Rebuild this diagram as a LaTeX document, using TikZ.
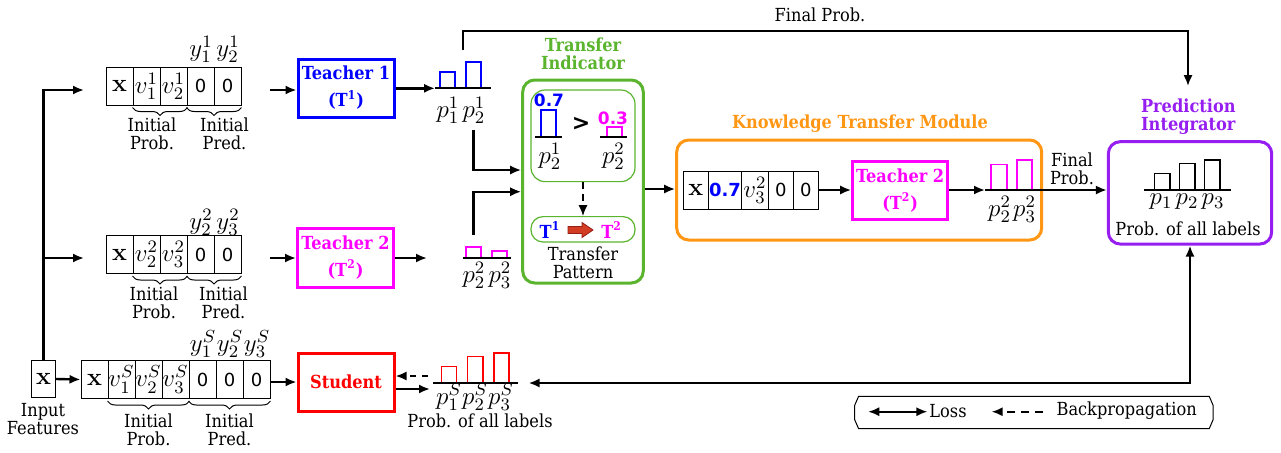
\RequirePackage{fix-cm}
\documentclass[tikz,border=0pt]{standalone}
\usepackage[no-math]{fontspec}
\IfFontExistsTF{DejaVu Serif Condensed}{\setmainfont{DejaVu Serif Condensed}}{\setmainfont{DejaVu Serif}}
\newfontfamily\numfont{DejaVu Sans}
\usetikzlibrary{arrows.meta,decorations.pathreplacing,calc}
\definecolor{tigreen}{RGB}{90,180,45}
\definecolor{ktorange}{RGB}{255,150,20}
\definecolor{pipurple}{RGB}{150,30,240}
\definecolor{patred}{RGB}{210,60,35}
\definecolor{patedge}{RGB}{150,30,20}
\definecolor{tblue}{RGB}{0,0,255}
\definecolor{tmag}{RGB}{255,0,255}
\definecolor{sred}{RGB}{255,0,0}
\newcommand\txtsz{\fontsize{9}{9.2}\selectfont}
\newcommand\mathsz{\fontsize{12.5}{14}\selectfont}
\newcommand\numsz{\numfont\fontsize{9}{10}\selectfont}
\tikzset{
  arr/.style={-{Latex[length=5.5pt,width=4.6pt]}, line width=1.2pt},
  dblarr/.style={{Latex[length=5.5pt,width=4.6pt]}-{Latex[length=5.5pt,width=4.6pt]}, line width=1.2pt},
  cell/.style={draw, line width=0.5pt, minimum width=13.5pt, minimum height=19pt, inner sep=0pt, font=\mathsz},
  zero/.style={cell, font=\numsz},
  lbl/.style={align=center, inner sep=0pt, font=\txtsz},
  mth/.style={inner sep=0pt, font=\mathsz},
  tbox/.style={draw, line width=1.5pt, minimum width=48pt, minimum height=29pt, align=center, inner sep=0pt, font=\bfseries\txtsz},
  bar/.style={line width=0.8pt},
  axis/.style={line width=1pt},
  brc/.style={decorate, decoration={brace, mirror, amplitude=4pt, raise=1pt}, line width=0.5pt},
  ttl/.style={align=center, inner sep=0pt, font=\bfseries\txtsz},
  val/.style={inner sep=0pt, font=\numfont\bfseries\fontsize{8.5}{10}\selectfont},
  panel/.style={line width=1.5pt, rounded corners=6pt},
}
\begin{document}
\begin{tikzpicture}[x=0.5pt,y=-0.5pt]
\useasboundingbox (0,0) rectangle (1281,452);

% ---------- input features ----------
\node[cell, minimum width=12pt, minimum height=18.5pt] (inx) at (43.5,379) {$\mathbf{x}$};
\node[lbl] (inl) at (43,419) {Input\\Features};

% ---------- teacher 1 input row ----------
\node[cell] (a0) at (119.5,86) {$\mathbf{x}$};
\node[cell] (a1) at (146.5,86) {$v_1^1$};
\node[cell] (a2) at (173.5,86) {$v_2^1$};
\node[zero] (a3) at (200.5,86) {0};
\node[zero] (a4) at (227.5,86) {0};
\node[mth] (ya3) at (201,49) {$y_1^1$};
\node[mth] (ya4) at (228,49) {$y_2^1$};
\draw[brc] (a1.south west) -- (a2.south east);
\draw[brc] (a3.south west) -- (a4.south east);
\node[lbl] (ia) at (152,134) {Initial\\Prob.};
\node[lbl] (pa) at (224.5,134) {Initial\\Pred.};

% ---------- teacher 2 input row ----------
\node[cell] (b0) at (119.5,254.5) {$\mathbf{x}$};
\node[cell] (b1) at (146.5,254.5) {$v_2^2$};
\node[cell] (b2) at (173.5,254.5) {$v_3^2$};
\node[zero] (b3) at (200.5,254.5) {0};
\node[zero] (b4) at (227.5,254.5) {0};
\node[mth] (yb3) at (201,222) {$y_2^2$};
\node[mth] (yb4) at (228,222) {$y_3^2$};
\draw[brc] (b1.south west) -- (b2.south east);
\draw[brc] (b3.south west) -- (b4.south east);
\node[lbl] (ib) at (154,303) {Initial\\Prob.};
\node[lbl] (pb) at (223.5,303) {Initial\\Pred.};

% ---------- student input row ----------
\node[cell] (s0) at (94.5,379.5) {$\mathbf{x}$};
\node[cell] (s1) at (121.5,379.5) {$v_1^S$};
\node[cell] (s2) at (148.5,379.5) {$v_2^S$};
\node[cell] (s3) at (175.5,379.5) {$v_3^S$};
\node[zero] (s4) at (202.5,379.5) {0};
\node[zero] (s5) at (229.5,379.5) {0};
\node[zero] (s6) at (256.5,379.5) {0};
\node[mth] (ys4) at (203,344) {$y_1^S$};
\node[mth] (ys5) at (230,344) {$y_2^S$};
\node[mth] (ys6) at (257,344) {$y_3^S$};
\draw[brc] (s1.south west) -- (s3.south east);
\draw[brc] (s4.south west) -- (s6.south east);
\node[lbl] (is) at (148.5,430) {Initial\\Prob.};
\node[lbl] (ps) at (229.5,430) {Initial\\Pred.};

% ---------- feature distribution ----------
\coordinate (ain) at (84,90);
\coordinate (bin) at (84,258);
\draw[arr] (inx.north) |- (ain);
\draw[arr] (inx.north |- bin) -- (bin);
\draw[arr] (inx.east) -- (s0.west);

% ---------- models ----------
\node[tbox, draw=tblue, text=tblue] (t1) at (346,88) {Teacher 1\\[4.3pt](T\textsuperscript{1})};
\node[tbox, draw=tmag, text=tmag, minimum height=29.5pt] (t2) at (345.5,257.5) {Teacher 2\\[4.3pt](T\textsuperscript{2})};
\node[tbox, draw=sred, text=sred] (st) at (346,382) {Student};

\coordinate (aout) at (270,90);
\coordinate (bout) at (270,258);
\draw[arr] (aout) -- (t1.west |- aout);
\draw[arr] (bout) -- (t2.west |- bout);
\draw[arr] (s6.east |- st.west) -- (st.west);

% ---------- teacher 1 output ----------
\coordinate (pa0) at (435,88.3);
\coordinate (pa1) at (490.7,88.3);
\draw[arr] (t1.east |- pa0) -- (pa0);
\draw[bar, tblue] (440,88.3) rectangle (455,71.7);
\draw[bar, tblue] (465.7,88.3) rectangle (481,61.7);
\draw[axis] (pa0) -- (pa1);
\node[mth] (pa1l) at (448,110) {$p_1^1$};
\node[mth] (pa2l) at (474,110) {$p_2^1$};

% ---------- teacher 2 output ----------
\coordinate (pbtip) at (427,258);
\coordinate (pb0) at (462.7,257.7);
\coordinate (pb1) at (510.7,257.7);
\draw[arr] (t2.east |- pbtip) -- (pbtip);
\draw[bar, tmag] (465.7,257.7) rectangle (481,247);
\draw[bar, tmag] (492,257.7) rectangle (507,250.7);
\draw[axis] (pb0) -- (pb1);
\node[mth] (pb1l) at (474,275) {$p_2^2$};
\node[mth] (pb2l) at (500,275) {$p_3^2$};

% ---------- student output ----------
\coordinate (ps0) at (433.3,383.2);
\coordinate (ps1) at (517.8,383.2);
\coordinate (sfw) at (430,389);
\coordinate (sbk) at (428,376);
\draw[arr] (st.east |- sfw) -- (sfw);
\draw[arr, dash pattern=on 3pt off 3pt] (sbk) -- (st.east |- sbk);
\draw[bar, sred] (441.5,383.2) rectangle (456.6,366.3);
\draw[bar, sred] (467.4,383.2) rectangle (482.9,356.4);
\draw[bar, sred] (493.7,383.2) rectangle (508.8,352.7);
\draw[axis] (ps0) -- (ps1);
\node[mth] (ps1l) at (449,397) {$p_1^S$};
\node[mth] (ps2l) at (475,397) {$p_2^S$};
\node[mth] (ps3l) at (501,397) {$p_3^S$};
\node[lbl] (psl) at (480,421) {Prob. of all labels};

% ---------- transfer indicator ----------
\node[panel, draw=tigreen, minimum width=60.3pt, minimum height=101.5pt] (ti) at (583,181.5) {};
\node[ttl, text=tigreen] (tit) at (583,54) {Transfer\\Indicator};
\node[draw=tigreen, line width=0.6pt, rounded corners=7pt, minimum width=52pt, minimum height=45.8pt] (cmp) at (583,135.8) {};
\node[draw=tigreen, line width=0.6pt, rounded corners=6pt, minimum width=52pt, minimum height=12.7pt] (pat) at (583,229.3) {};
\draw[arr, line width=0.8pt, dash pattern=on 3.5pt off 2.5pt] (cmp.south) -- (pat.north);

\node[val, text=tblue] (v07) at (549,100) {0.7};
\draw[bar, tblue] (540.7,136.7) rectangle (556,110);
\draw[axis] (535,136.7) -- (561.7,136.7);
\node[mth] (cp1) at (550,156) {$p_2^1$};
\node[inner sep=0pt, font=\numfont\bfseries\fontsize{11}{12}\selectfont] (gt) at (581,124) {>};
\node[val, text=tmag] (v03) at (613,118) {0.3};
\draw[bar, tmag] (606.7,136.7) rectangle (621.7,126.7);
\draw[axis] (600,136.7) -- (627,136.7);
\node[mth] (cp2) at (613.5,156) {$p_2^2$};

\node[ttl, text=tblue] (pt1) at (550,230) {T\textsuperscript{1}};
\draw[fill=patred, draw=patedge, line width=0.4pt] (568,226.5) -- (582,226.5) -- (582,222.5)
  -- (593,230) -- (582,237.5) -- (582,233.5) -- (568,233.5) -- cycle;
\node[ttl, text=tmag] (pt2) at (611.7,230) {T\textsuperscript{2}};
\node[lbl] (tpl) at (583,263) {Transfer\\Pattern};

\coordinate (upA) at (473.3,130);
\coordinate (upB) at (473.3,235);
\coordinate (yA) at (0,170);
\coordinate (yB) at (0,191.7);
\draw[arr] (upA) |- (ti.west |- yA);
\draw[arr] (upB) |- (ti.west |- yB);

% ---------- knowledge transfer module ----------
\node[panel, draw=ktorange, minimum width=182.5pt, minimum height=50pt] (ktm) at (859.2,190) {};
\node[ttl, text=ktorange] (ktt) at (860,123.3) {Knowledge Transfer Module};
\coordinate (yT) at (0,189);
\draw[arr] (ti.east |- yT) -- (ktm.west |- yT);

\node[cell, minimum width=12.5pt] (k0) at (695.8,190) {$\mathbf{x}$};
\node[cell, minimum width=16.7pt, font=\numfont\bfseries\fontsize{9}{10}\selectfont, text=tblue] (k1) at (725,190) {0.7};
\node[cell, minimum width=13.3pt] (k2) at (755,190) {$v_3^2$};
\node[zero, minimum width=12.5pt] (k3) at (780.8,190) {0};
\node[zero, minimum width=12.5pt] (k4) at (805.8,190) {0};
\node[tbox, draw=tmag, text=tmag, minimum width=47.5pt, minimum height=28.8pt] (kt2) at (900.2,190.5) {Teacher 2\\[4.3pt](T\textsuperscript{2})};
\draw[arr] (k4.east) -- (kt2.west |- k4.east);

\coordinate (pk0) at (985,190);
\draw[arr] (kt2.east |- pk0) -- (pk0);
\draw[bar, tmag] (991,190) rectangle (1006.7,164.3);
\draw[bar, tmag] (1016.7,190) rectangle (1031.7,160);
\node[mth] (pk1l) at (999.5,209) {$p_2^2$};
\node[mth] (pk2l) at (1024.5,209) {$p_3^2$};

% ---------- prediction integrator ----------
\node[panel, draw=pipurple, minimum width=81.7pt, minimum height=51.2pt] (pi) at (1190,192.85) {};
\node[ttl, text=pipurple] (pit) at (1188.3,116.7) {Prediction\\Integrator};
\draw[arr] (pk0) -- (pi.west |- pk0);
\node[lbl] (fp2) at (1072,169) {Final\\Prob.};
\draw[bar] (1154.3,190) rectangle (1170,173.3);
\draw[bar] (1179.3,190) rectangle (1195,163.3);
\draw[bar] (1204.3,190) rectangle (1220,160);
\draw[axis] (1144,190) -- (1230.7,190);
\node[mth] (pp1) at (1161,202) {$p_1$};
\node[mth] (pp2) at (1187,202) {$p_2$};
\node[mth] (pp3) at (1213,202) {$p_3$};
\node[lbl] (pil) at (1188,228.3) {Prob. of all labels};

% ---------- final probability shortcut ----------
\coordinate (fp0) at (463.3,50);
\coordinate (fptop) at (463.3,31);
\coordinate (fpend) at (1188,86);
\draw[arr, line width=1pt] (fp0) -- (fptop) -| (fpend);
\node[lbl] (fpl) at (820,15) {Final Prob.};

% ---------- loss ----------
\coordinate (lossL) at (528.6,383);
\draw[dblarr] (lossL) -| (pi.south);

% ---------- legend ----------
\node[minimum width=178.9pt, minimum height=15.8pt, inner sep=0pt] (leg) at (1033.9,412.5) {};
\draw[line width=0.5pt]
  ($(leg.north west)+(4,0)$) -- ($(leg.north east)+(-4,0)$) -- ($(leg.east)+(0,-7)$)
  -- ($(leg.east)+(0,7)$) -- ($(leg.south east)+(-4,0)$) -- ($(leg.south west)+(4,0)$)
  -- ($(leg.west)+(0,7)$) -- ($(leg.west)+(0,-7)$) -- cycle;
\coordinate (lg1a) at (868.3,411.7);
\coordinate (lg1b) at (927.3,411.7);
\draw[dblarr, line width=0.9pt] (lg1a) -- (lg1b);
\node[lbl] (lgl) at (948,411) {Loss};
\coordinate (lg2a) at (1043.3,411.7);
\coordinate (lg2b) at (991.7,411.7);
\draw[arr, line width=0.9pt, dash pattern=on 4pt off 3pt] (lg2a) -- (lg2b);
\node[lbl] (lgb) at (1126.7,411) {Backpropagation};
\end{tikzpicture}
\end{document}
